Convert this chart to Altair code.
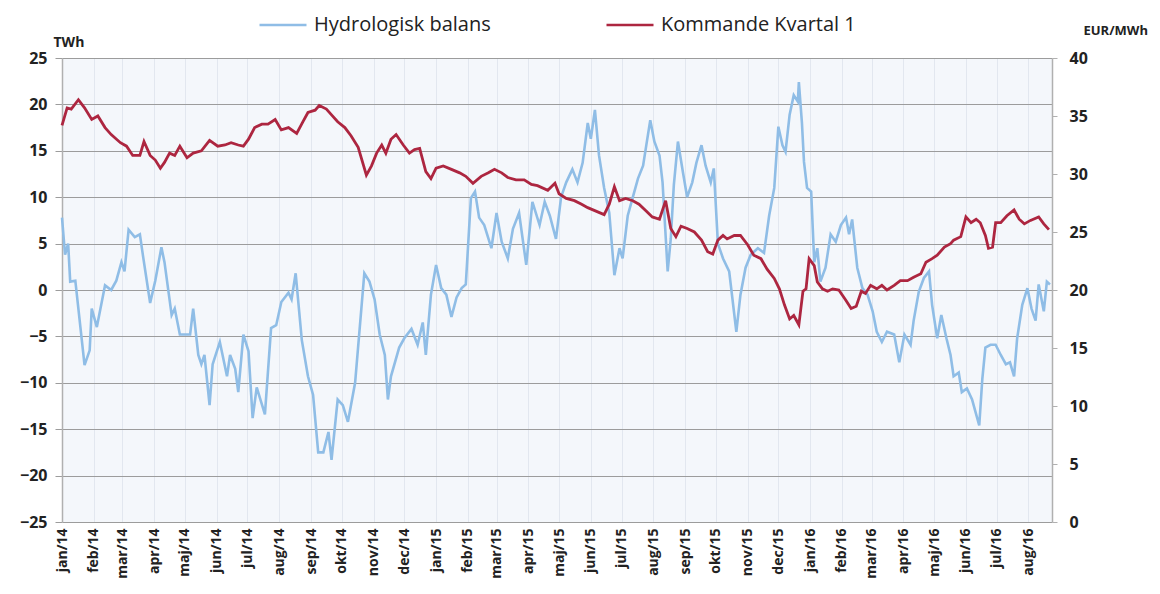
import altair as alt
import pandas as pd
from datetime import date, timedelta

START = date(2014, 1, 1)

# Hydrologisk balans (TWh) - days since 2014-01-01 and values
hyd_days = [0, 3, 6, 8, 13, 22, 27, 29, 34, 42, 48, 53, 58, 61, 65, 71, 76, 79, 86, 91, 97, 100,
            107, 110, 115, 125, 128, 133, 136, 139, 144, 147, 154, 161, 164, 169, 172, 177, 182,
            186, 190, 198, 204, 209, 214, 221, 224, 228, 234, 240, 245, 250, 255, 260, 263, 269,
            274, 279, 286, 295, 300, 305, 310, 315, 318, 321, 329, 334, 341, 347, 352, 355, 360,
            365, 370, 375, 380, 385, 390, 394, 399, 403, 407, 412, 419, 424, 429, 435, 440, 446,
            453, 459, 466, 471, 476, 482, 487, 492, 498, 503, 508, 513, 516, 520, 524, 529, 534,
            539, 544, 547, 552, 557, 562, 567, 570, 574, 578, 583, 586, 591, 594, 597, 601, 606,
            610, 615, 619, 624, 628, 633, 636, 640, 645, 651, 658, 662, 667, 672, 679, 685, 690,
            695, 699, 703, 706, 710, 714, 718, 719, 722, 724, 727, 731, 734, 737, 740, 745, 750,
            755, 760, 765, 768, 771, 776, 781, 786, 791, 795, 800, 805, 812, 817, 822, 828, 831,
            836, 841, 846, 849, 854, 858, 863, 867, 870, 875, 878, 883, 888, 891, 895, 898, 901,
            906, 911, 916, 921, 925, 929, 932, 937, 942, 946, 950, 953, 958, 961, 964]
hyd_vals = [7.8, 3.8, 5, 0.9, 1, -8.1, -6.5, -2, -4, 0.5, 0, 1, 3, 2, 6.5, 5.7, 6, 3.7, -1.4, 1, 4.6, 3,
            -2.7, -2, -4.8, -4.8, -2, -7, -8, -7, -12.4, -8, -5.6, -9.3, -7, -8.5, -11, -4.8, -6.6,
            -13.8, -10.5, -13.4, -4.1, -3.8, -1.3, -0.3, -1, 1.8, -5.4, -9.3, -11.3, -17.5, -17.5, -15.3, -18.3, -11.8,
            -12.4, -14.2, -10, 1.8, 0.9, -1, -4.8, -7, -11.8, -9.3, -6.2, -5.2, -4.2, -5.9, -3.5, -7, -0.5,
            2.7, 0.2, -0.5, -2.9, -0.8, 0.2, 0.6, 9.9, 10.6, 7.8, 7, 4.5, 8.3, 5.2, 3.4, 6.6, 8.3,
            2.7, 9.5, 7, 9.5, 8, 5.5, 10, 11.6, 13, 11.6, 13.7, 18, 16.3, 19.4, 14.5, 11, 8.3,
            1.6, 4.5, 3.4, 8, 10, 12, 13.4, 15.5, 18.3, 16, 14.5, 11.6, 2, 5.5, 11.3, 16, 12.6,
            10, 11.6, 13.7, 15.6, 13.4, 11.6, 13.1, 5, 3.4, 2, -4.5, -0.5, 2.4, 3.8, 4.5, 4, 8,
            11, 17.6, 15.6, 14.9, 18.9, 21, 20.3, 22.4, 18, 13.8, 11, 10.6, 3, 4.5, 0.9, 2.4, 6,
            5.2, 7, 7.8, 6, 7.6, 2.4, 0.2, -0.5, -2.3, -4.5, -5.6, -4.5, -4.8, -7.8, -4.8, -5.9, -3.3,
            -0.2, 1.3, 2, -1.6, -5.2, -2.7, -5.2, -7, -9.3, -8.9, -11, -10.6, -11.8, -13, -14.6, -9.6, -6.2,
            -5.9, -5.9, -7, -8, -7.8, -9.3, -5.2, -1.6, 0.2, -2, -3.3, 0.6, -2.3, 0.9, 0.6]

# Kommande Kvartal 1 (EUR/MWh)
kv_days = [0, 5, 9, 16, 22, 29, 35, 42, 48, 57, 63, 69, 76, 80, 86, 91, 96, 100, 105, 110, 115, 122,
           128, 136, 144, 152, 159, 165, 172, 177, 182, 188, 195, 201, 208, 214, 221, 229, 235, 240,
           247, 251, 258, 263, 269, 276, 282, 289, 297, 302, 307, 312, 316, 321, 326, 333, 339, 344,
           349, 355, 360, 365, 372, 380, 388, 394, 401, 409, 416, 422, 429, 435, 443, 451, 458, 464,
           474, 481, 485, 492, 500, 507, 513, 521, 529, 534, 539, 544, 550, 557, 563, 570, 576, 583,
           589, 594, 599, 604, 610, 617, 624, 630, 635, 640, 645, 649, 656, 662, 669, 675, 682, 688,
           695, 700, 705, 710, 714, 719, 723, 726, 729, 734, 737, 742, 747, 752, 758, 765, 770, 775,
           780, 784, 789, 795, 800, 805, 812, 818, 825, 831, 838, 843, 849, 854, 861, 867, 870, 877,
           882, 887, 892, 896, 901, 904, 908, 911, 916, 922, 929, 934, 939, 945, 953, 958, 963]
kv_vals = [34.2, 35.7, 35.6, 36.4, 35.7, 34.7, 35, 34, 33.4, 32.7, 32.4, 31.6, 31.6, 32.8, 31.6, 31.2, 30.5, 31, 31.8, 31.6, 32.4, 31.4,
           31.8, 32, 32.9, 32.4, 32.5, 32.7, 32.5, 32.4, 33, 34, 34.3, 34.3, 34.7, 33.8, 34, 33.5, 34.5, 35.3,
           35.5, 35.9, 35.6, 35.1, 34.5, 34, 33.3, 32.3, 29.9, 30.7, 31.8, 32.5, 31.8, 33, 33.4, 32.5, 31.8, 32.1,
           32.2, 30.2, 29.6, 30.5, 30.7, 30.4, 30.1, 29.8, 29.2, 29.8, 30.1, 30.4, 30.1, 29.7, 29.5, 29.5, 29.1, 29,
           28.6, 29.2, 28.3, 27.9, 27.7, 27.4, 27.1, 26.8, 26.5, 27.4, 28.9, 27.7, 27.9, 27.7, 27.4, 26.8, 26.3, 26.1,
           27.7, 25.3, 24.6, 25.5, 25.3, 25, 24.3, 23.3, 23.1, 24.3, 24.7, 24.4, 24.7, 24.7, 23.9, 23, 22.7, 21.8,
           21, 20.1, 18.7, 17.5, 17.8, 17, 19.9, 20.1, 22.7, 22.1, 20.7, 20.1, 19.9, 20.1, 20, 19.1, 18.4, 18.6,
           19.9, 19.7, 20.4, 20.1, 20.4, 20, 20.4, 20.8, 20.8, 21.1, 21.4, 22.4, 22.7, 23, 23.7, 24, 24.3, 24.6,
           26.3, 25.8, 26.1, 25.8, 24.7, 23.6, 23.7, 25.8, 25.8, 26.4, 26.9, 26.1, 25.7, 26, 26.3, 25.7, 25.2]

series_names = ["Hydrologisk balans", "Kommande Kvartal 1"]
series_colors = ["#8fbde6", "#ad2640"]
month_names = ["jan", "feb", "mar", "apr", "maj", "jun", "jul", "aug", "sep", "okt", "nov", "dec"]


def to_dates(days):
    return [(START + timedelta(days=d)).isoformat() for d in days]


hyd = pd.DataFrame({"date": to_dates(hyd_days), "value": hyd_vals, "series": series_names[0]})
kv = pd.DataFrame({"date": to_dates(kv_days), "value": kv_vals, "series": series_names[1]})

month_ticks = [alt.DateTime(year=2014 + m // 12, month=m % 12 + 1, date=1, utc=True) for m in range(32)]
label_expr = ("['" + "','".join(month_names) + "'][utcmonth(datum.value)] + '/' + utcFormat(datum.value, '%y')")

FONT = "Open Sans"
TXT = "#222222"

x_enc = alt.X(
    "date:T",
    scale=alt.Scale(type="utc", domain=[alt.DateTime(year=2014, month=1, date=1, utc=True),
                                        alt.DateTime(year=2016, month=8, date=24, utc=True)]),
    axis=alt.Axis(values=month_ticks, labelExpr=label_expr, labelAngle=270, labelAlign="right",
                  labelBaseline="middle", title=None, domain=False, ticks=False, grid=True,
                  gridColor="#e2e7ef", gridWidth=1, labelFont=FONT, labelFontSize=14,
                  labelFontWeight="bold", labelColor=TXT, labelPadding=6),
)

color_enc = alt.Color(
    "series:N",
    scale=alt.Scale(domain=series_names, range=series_colors),
    legend=alt.Legend(orient="none", legendX=196, legendY=-58, direction="horizontal", title=None,
                      symbolType="stroke", symbolSize=2209, symbolStrokeWidth=2.5,
                      labelFont=FONT, labelFontSize=20, labelColor=TXT, labelLimit=400,
                      columnPadding=110, labelOffset=6),
)

left = alt.Chart(hyd).mark_line(strokeWidth=2.6).encode(
    x=x_enc,
    y=alt.Y("value:Q", scale=alt.Scale(domain=[-25, 25], nice=False),
            axis=alt.Axis(values=list(range(-25, 30, 5)), title="TWh", titleAngle=0, titleAlign="left",
                          titleX=-9, titleY=-12, titleBaseline="alphabetic", titleFont=FONT,
                          titleFontSize=14, titleFontWeight="bold", titleColor=TXT,
                          labelFont=FONT, labelFontSize=16, labelFontWeight="bold", labelColor=TXT,
                          gridColor="#9c9c9c", gridWidth=1.2, tickColor="#9c9c9c", tickSize=7,
                          domainColor="#b0b0b0", domainWidth=1.5, labelPadding=8)),
    color=color_enc,
)

right = alt.Chart(kv).mark_line(strokeWidth=2.8).encode(
    x=x_enc,
    y=alt.Y("value:Q", scale=alt.Scale(domain=[0, 40], nice=False),
            axis=alt.Axis(orient="right", values=list(range(0, 45, 5)), grid=False, title="EUR/MWh",
                          titleAngle=0, titleAlign="left", titleX=31, titleY=-24,
                          titleBaseline="alphabetic", titleFont=FONT, titleFontSize=13,
                          titleFontWeight="bold", titleColor=TXT, labelFont=FONT,
                          labelFontSize=16, labelFontWeight="bold", labelColor=TXT,
                          tickColor="#b0b0b0", tickSize=5, domainColor="#b0b0b0", domainWidth=1.5,
                          labelPadding=12)),
    color=color_enc,
)

chart = alt.layer(left, right).resolve_scale(y="independent").properties(
    width=990, height=464,
    autosize=alt.AutoSizeParams(type="none"),
    padding={"left": 54, "top": 50, "right": 100, "bottom": 64},
    background="#ffffff",
).configure_view(stroke="transparent", fill="#f4f7fb")

chart.save("out.html", embed_options={"renderer": "svg", "actions": False})
